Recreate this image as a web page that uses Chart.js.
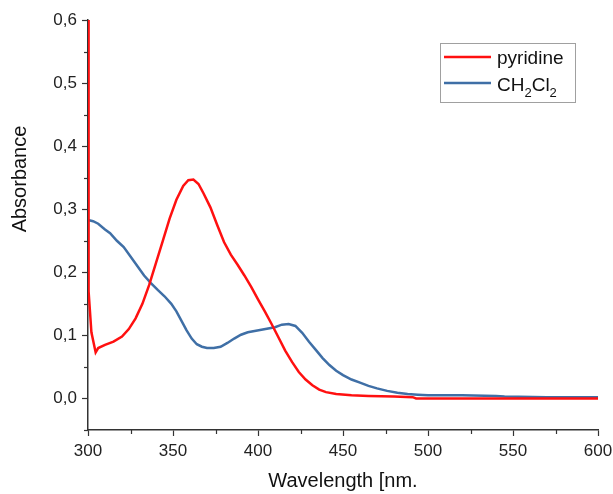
<!DOCTYPE html>
<html>
<head>
<meta charset="utf-8">
<script src="https://cdn.jsdelivr.net/npm/chart.js@4.4.1/dist/chart.umd.min.js"></script>
<style>
  html, body { margin: 0; padding: 0; background: #fff; }
</style>
</head>
<body>
<canvas id="chart" width="613" height="494"></canvas>
<script>
// ===== UV-Vis spectra: pyridine vs CH2Cl2 =====
const pyridineNm  = [300,300.2,300.5,302,304.5,306,310,315,320,324,328,332,336,340,344,348,352,356,359,362,365,368,372,376,380,384,388,392,396,400,404,408,412,416,420,424,428,432,436,440,446,455,465,480,491,493,500,550,600];
const pyridineAbs = [0.60,0.30,0.17,0.105,0.073,0.080,0.085,0.090,0.098,0.110,0.127,0.150,0.180,0.215,0.250,0.285,0.315,0.337,0.346,0.347,0.340,0.325,0.303,0.275,0.248,0.228,0.212,0.195,0.177,0.157,0.138,0.118,0.097,0.076,0.058,0.042,0.030,0.021,0.014,0.010,0.007,0.005,0.004,0.003,0.002,0.000,0.000,0.000,0.000];

const ch2cl2Nm  = [300,303,306,310,313,317,321,325,329,333,337,341,345,349,352,355,358,361,364,367,370,374,378,382,386,390,394,398,402,406,410,414,418,422,426,430,434,438,442,446,450,455,460,465,470,476,482,488,494,500,520,540,545,570,600];
const ch2cl2Abs = [0.283,0.281,0.277,0.268,0.262,0.250,0.240,0.225,0.210,0.195,0.183,0.172,0.162,0.150,0.138,0.123,0.108,0.095,0.086,0.082,0.080,0.080,0.082,0.088,0.095,0.101,0.105,0.107,0.109,0.111,0.113,0.117,0.118,0.115,0.104,0.090,0.077,0.064,0.053,0.044,0.037,0.030,0.025,0.020,0.016,0.012,0.009,0.007,0.006,0.005,0.005,0.004,0.003,0.002,0.002];

const xTicks = [300,350,400,450,500,550,600];
const xMinor = [325,375,425,475,525,575];
const yTicks = [0,0.1,0.2,0.3,0.4,0.5,0.6];
const yMinor = [-0.05,0.05,0.15,0.25,0.35,0.45,0.55];

const FONT = "'Liberation Sans', Arial, sans-serif";
const AXIS = "#333";

const pts = (xs, ys) => xs.map((x, i) => ({ x, y: ys[i] }));

// minor ticks, axis titles and the boxed legend
const extras = {
  id: "extras",
  afterDraw(chart) {
    const { ctx, scales: { x, y } } = chart;
    ctx.save();
    ctx.strokeStyle = AXIS; ctx.lineWidth = 1.2;
    xMinor.forEach(v => {
      const px = Math.round(x.getPixelForValue(v)) + 0.5;
      ctx.beginPath(); ctx.moveTo(px, x.top); ctx.lineTo(px, x.top + 4); ctx.stroke();
    });
    yMinor.forEach(v => {
      const py = Math.round(y.getPixelForValue(v)) + 0.5;
      ctx.beginPath(); ctx.moveTo(y.right, py); ctx.lineTo(y.right - 4, py); ctx.stroke();
    });

    // titles
    ctx.fillStyle = "#111";
    ctx.font = "20px " + FONT;
    ctx.textAlign = "center"; ctx.textBaseline = "middle";
    ctx.fillText("Wavelength [nm.", (x.left + x.right) / 2, 481);
    ctx.translate(20, 179); ctx.rotate(-Math.PI / 2);
    ctx.fillText("Absorbance", 0, 0);
    ctx.setTransform(1, 0, 0, 1, 0, 0);

    // legend box
    ctx.strokeStyle = "#a0a0a0"; ctx.lineWidth = 1;
    ctx.strokeRect(440.5, 43.5, 135, 59);
    const ds = chart.data.datasets;
    [57, 83].forEach((ly, i) => {
      ctx.strokeStyle = ds[i].borderColor; ctx.lineWidth = 2.5;
      ctx.beginPath(); ctx.moveTo(444, ly); ctx.lineTo(491, ly); ctx.stroke();
    });
    ctx.fillStyle = "#111"; ctx.textAlign = "left"; ctx.textBaseline = "alphabetic";
    ctx.font = "19px " + FONT;
    ctx.fillText(ds[0].label, 497, 64);
    // CH2Cl2 with subscripts
    let cx = 497;
    const big = "19px " + FONT, small = "13px " + FONT;
    [["CH", big, 91], ["2", small, 97], ["Cl", big, 91], ["2", small, 97]].forEach(([t, f, b]) => {
      ctx.font = f; ctx.fillText(t, cx, b); cx += ctx.measureText(t).width;
    });
    ctx.restore();
  }
};

new Chart(document.getElementById("chart"), {
  type: "line",
  data: {
    datasets: [
      { label: "pyridine", data: pts(pyridineNm, pyridineAbs), borderColor: "#ff1010", borderWidth: 2.5, pointRadius: 0, tension: 0, fill: false },
      { label: "CH2Cl2",   data: pts(ch2cl2Nm, ch2cl2Abs),   borderColor: "#3f6fa6", borderWidth: 2.5, pointRadius: 0, tension: 0, fill: false }
    ]
  },
  options: {
    responsive: false,
    animation: false,
    devicePixelRatio: 1,
    layout: { padding: { top: 20, right: 15, left: 0, bottom: 0 } },
    plugins: { legend: { display: false }, tooltip: { enabled: false } },
    scales: {
      x: {
        type: "linear", min: 300, max: 600,
        afterBuildTicks: s => { s.ticks = xTicks.map(v => ({ value: v })); },
        afterFit: s => { s.height = 64; s.paddingRight = 0; s.paddingLeft = 0; },
        grid: { drawOnChartArea: false, tickLength: 6, tickColor: AXIS, tickWidth: 1.2 },
        border: { color: AXIS, width: 1.5 },
        ticks: { font: { family: FONT, size: 17 }, color: "#222", padding: 5, maxRotation: 0 }
      },
      y: {
        type: "linear", min: -0.05, max: 0.6,
        afterBuildTicks: s => { s.ticks = yTicks.map(v => ({ value: v })); },
        afterFit: s => { s.width = 88; s.paddingTop = 0; s.paddingBottom = 0; },
        grid: { drawOnChartArea: false, tickLength: 6, tickColor: AXIS, tickWidth: 1.2 },
        border: { color: AXIS, width: 1.5 },
        ticks: { font: { family: FONT, size: 17 }, color: "#222", padding: 5,
                 callback: v => v.toFixed(1).replace(".", ",") }
      }
    }
  },
  plugins: [extras]
});
</script>
</body>
</html>
